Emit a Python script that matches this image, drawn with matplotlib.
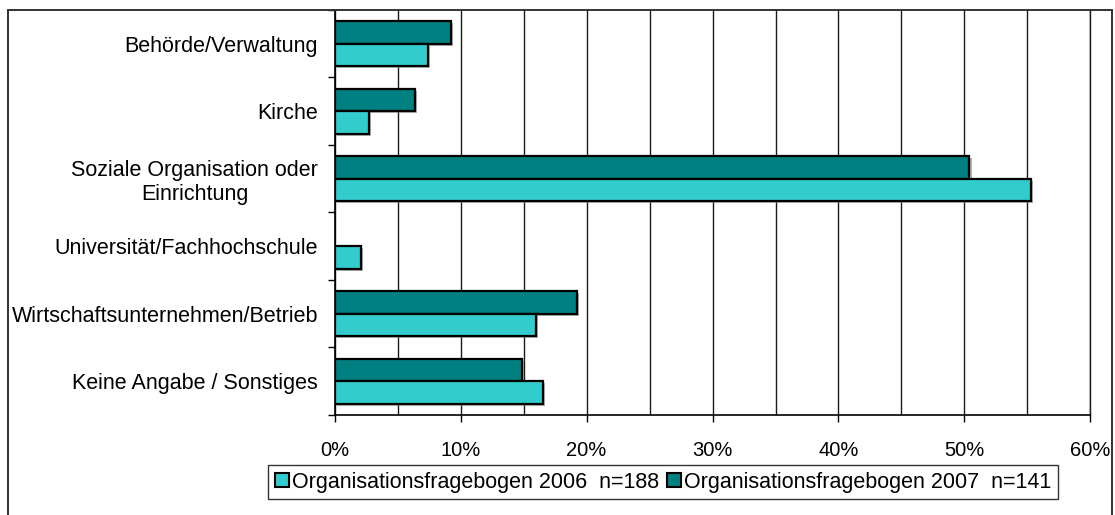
import matplotlib
matplotlib.use("Agg")
import matplotlib.pyplot as plt
import matplotlib.patheffects as pe
from matplotlib.patches import Rectangle
from matplotlib.ticker import MultipleLocator, FuncFormatter

# =====================================
# 1. DATA
# =====================================
categories = [
    "Behörde/Verwaltung",
    "Kirche",
    "Soziale Organisation oder\nEinrichtung",
    "Universität/Fachhochschule",
    "Wirtschaftsunternehmen/Betrieb",
    "Keine Angabe / Sonstiges",
]
values_2006 = [7.4, 2.7, 55.3, 2.1, 16.0, 16.5]
values_2007 = [9.2, 6.4, 50.4, 0.0, 19.2, 14.9]

label_2006 = "Organisationsfragebogen 2006  n=188"
label_2007 = "Organisationsfragebogen 2007  n=141"

color_2006 = "#33CCCC"
color_2007 = "#008080"

x_ticks = [0, 10, 20, 30, 40, 50, 60]

# =====================================
# 2. FIGURE
# =====================================
plt.rcParams["font.family"] = ["Liberation Sans", "DejaVu Sans"]

fig = plt.figure(figsize=(11.15, 5.15), dpi=100)
ax = fig.add_axes([0.3002, 0.1942, 0.6777, 0.7864])

pos = list(range(len(categories)))
h = 0.333
shadow = [pe.SimplePatchShadow(offset=(1.5, -1.5), shadow_rgbFace="#808080", alpha=0.6), pe.Normal()]

b07 = ax.barh([p - h / 2 for p in pos], values_2007, height=h, color=color_2007,
              edgecolor="black", linewidth=1.6, label=label_2007, zorder=3)
b06 = ax.barh([p + h / 2 for p in pos], values_2006, height=h, color=color_2006,
              edgecolor="black", linewidth=1.6, label=label_2006, zorder=3)
for bar in list(b07) + list(b06):
    if bar.get_width() > 0:
        bar.set_path_effects(shadow)
    else:
        bar.set_visible(False)

# =====================================
# 3. AXES
# =====================================
ax.set_xlim(0, 60)
ax.set_ylim(5.5, -0.5)

ax.set_xticks(x_ticks)
ax.xaxis.set_major_formatter(FuncFormatter(lambda v, p: f"{v:.0f}%"))
ax.xaxis.set_minor_locator(MultipleLocator(5))
ax.grid(True, axis="x", which="both", color="#1a1a1a", linewidth=1.0, zorder=0)
ax.tick_params(axis="x", which="major", direction="out", length=5, width=1,
               pad=13.5, labelsize=14.5)
ax.tick_params(axis="x", which="minor", length=0)

ax.set_yticks(pos)
ax.set_yticklabels(categories, ma="center")
ax.set_yticks([p - 0.5 for p in pos] + [5.5], minor=True)
ax.tick_params(axis="y", which="major", length=0, pad=12, labelsize=15.5)
ax.tick_params(axis="y", which="minor", direction="out", length=5, width=1)

ax.spines["top"].set_visible(False)
ax.spines["right"].set_color("#1a1a1a")
ax.spines["right"].set_linewidth(1.0)
ax.spines["left"].set_linewidth(1.2)
ax.spines["bottom"].set_linewidth(1.2)
ax.set_axisbelow(True)

# =====================================
# 4. LEGEND + BORDER
# =====================================
leg = fig.legend(handles=[b06, b07], labels=[label_2006, label_2007],
                 loc="center", bbox_to_anchor=(0.5946, 0.064), ncol=2,
                 fontsize=15.5, frameon=True, fancybox=False, shadow=False,
                 handlelength=0.65, handleheight=0.65, handletextpad=0.15,
                 columnspacing=0.35, borderpad=0.3, borderaxespad=0)
leg.get_frame().set_edgecolor("black")
leg.get_frame().set_linewidth(1.0)
for hdl in leg.legend_handles:
    hdl.set_linewidth(1.5)
    hdl.set_path_effects([])

fig.patches.append(Rectangle((7.5 / 1115, -0.05), (1112 - 7.5) / 1115, 1.05 - 10 / 515,
                             transform=fig.transFigure, fill=False,
                             edgecolor="#333333", linewidth=1.4))

plt.savefig("out.png", dpi=100)
plt.close()
